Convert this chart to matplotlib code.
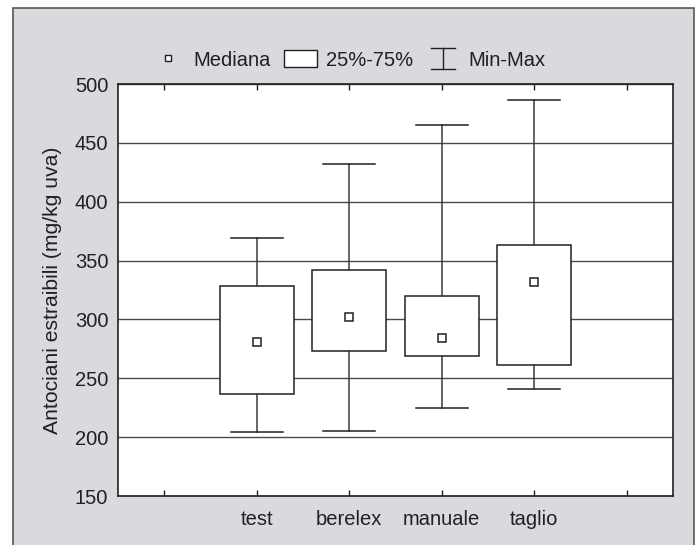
import matplotlib.pyplot as plt
from matplotlib.patches import Rectangle, Patch
from matplotlib.lines import Line2D
from matplotlib.legend_handler import HandlerBase

# data
groups = ["test", "berelex", "manuale", "taglio"]
mins = [204, 205, 225, 241]
q1 = [237, 273, 269, 261]
medians = [281, 302, 284, 332]
q3 = [328, 342, 320, 363]
maxs = [369, 432, 465, 486]

positions = [1, 2, 3, 4]
dark = "#231f20"
grey_bg = "#d9dadd"

plt.rcParams["font.family"] = ["Liberation Sans", "DejaVu Sans"]


class WhiskerHandler(HandlerBase):
    # draws the little I-shaped min-max symbol in the legend
    def create_artists(self, legend, orig_handle, xdescent, ydescent,
                       width, height, fontsize, trans):
        cx = width / 2 - xdescent
        y0 = -ydescent - 1.5
        y1 = height - ydescent + 1.5
        half = 8.5
        kw = dict(color=dark, lw=1.0, transform=trans)
        return [Line2D([cx - half, cx + half], [y0, y0], **kw),
                Line2D([cx - half, cx + half], [y1, y1], **kw),
                Line2D([cx, cx], [y0, y1], **kw)]


fig = plt.figure(figsize=(6.97, 5.45), dpi=100, facecolor="white")

# grey panel with a frame, as in the scanned figure
fig.patches.append(Rectangle((13 / 697, -0.05), (694 - 13) / 697, 1.05 - 8 / 545,
                             transform=fig.transFigure, facecolor=grey_bg,
                             edgecolor="#55565a", lw=1.2, zorder=-10))

ax = fig.add_axes([118 / 697, 1 - 496 / 545, (673 - 118) / 697, (496 - 84) / 545])
ax.set_facecolor("white")

stats = []
for i in range(len(groups)):
    stats.append(dict(med=medians[i], q1=q1[i], q3=q3[i],
                      whislo=mins[i], whishi=maxs[i], label=groups[i]))

ax.bxp(stats, positions=positions, widths=0.8, capwidths=0.56,
       showfliers=False, patch_artist=True,
       boxprops=dict(facecolor="white", edgecolor=dark, lw=1.1),
       whiskerprops=dict(color="#3a3a3a", lw=1.1),
       capprops=dict(color=dark, lw=1.1),
       medianprops=dict(visible=False), zorder=3)
ax.plot(positions, medians, ls="none", marker="s", ms=5.5, mfc="white",
        mec=dark, mew=1.1, zorder=4)

ax.set_xlim(-0.5, 5.5)
ax.set_ylim(150, 500)
ax.set_yticks(range(150, 501, 50))
ax.set_xticks(range(6))
ax.set_xticklabels([""] + groups + [""])
ax.yaxis.grid(True, color="#4a4a4a", lw=1.0, zorder=0)
ax.set_axisbelow(True)

ax.tick_params(axis="x", direction="in", length=4, top=True, width=1,
               color=dark, labelsize=14.5, labelcolor=dark, pad=10)
ax.tick_params(axis="y", direction="out", length=0, labelsize=14.5,
               labelcolor=dark, pad=7)
for s in ax.spines.values():
    s.set_color(dark)
    s.set_linewidth(1.2)

ax.set_ylabel("Antociani estraibili (mg/kg uva)", fontsize=15.2, color=dark,
              labelpad=9)

handles = [Line2D([], [], ls="none", marker="s", ms=4.5, mfc="white",
                  mec=dark, mew=1.0),
           Patch(facecolor="white", edgecolor=dark, lw=1.0),
           Line2D([], [])]
labels = ["Mediana", "25%-75%", "Min-Max"]
fig.legend(handles, labels, loc="center", bbox_to_anchor=(0.5, 1 - 60 / 545),
           ncol=3, frameon=False, fontsize=14.5, handlelength=1.6,
           handleheight=0.9, handletextpad=0.45, columnspacing=0.7,
           labelcolor=dark, handler_map={handles[2]: WhiskerHandler()})

fig.savefig("out.png", dpi=100, facecolor=fig.get_facecolor())
